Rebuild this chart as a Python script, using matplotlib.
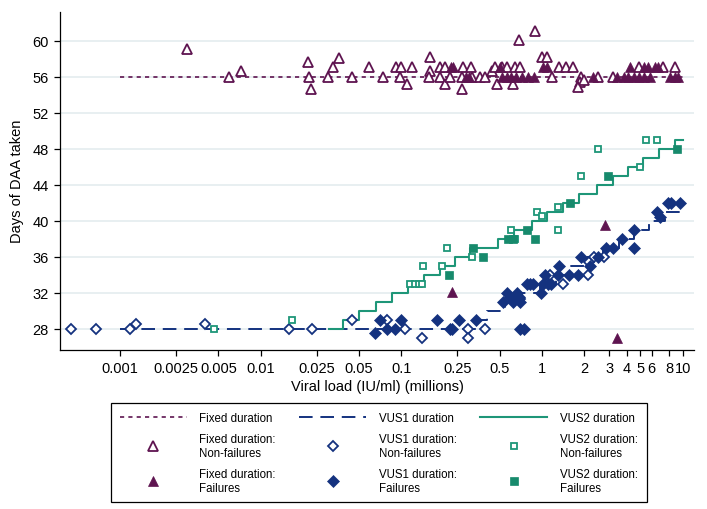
import matplotlib
matplotlib.use("Agg")
import matplotlib.pyplot as plt

plt.rcParams['font.family'] = ['Liberation Sans', 'DejaVu Sans']

# colours
PURPLE = '#5e1450'
NAVY = '#14327f'
TEAL = '#1e9678'

# --- step lines (viral load in millions, days) ---
fixed_line_x = [0.001, 10]
fixed_line_y = [56, 56]

vus1_line_x = [0.001, 0.339, 0.404, 0.545, 0.719, 0.966, 1.256, 1.604, 2.084,
               2.71, 3.52, 4.50, 5.75, 7.47, 9.71]
vus1_line_y = [28, 29, 30, 31, 32, 33, 34, 35, 36, 37, 38, 39, 40, 41, 41]

vus2_line_x = [0.0306, 0.0385, 0.05, 0.066, 0.0857, 0.111, 0.145, 0.188, 0.24,
               0.307, 0.486, 0.631, 0.843, 1.079, 1.415, 1.837, 2.44, 3.18,
               4.10, 5.24, 6.81, 8.81, 10.1]
vus2_line_y = [28, 29, 30, 31, 32, 33, 34, 35, 36, 37, 38, 39, 40, 41, 42, 43,
               44, 45, 46, 47, 48, 49, 49]

# --- fixed duration ---
fixed_nf_x = [0.003, 0.006, 0.0072, 0.0216, 0.0222, 0.0228, 0.030, 0.0327, 0.036,
              0.0444, 0.059, 0.0736, 0.092, 0.100, 0.098, 0.109, 0.119, 0.160,
              0.160, 0.158, 0.188, 0.203, 0.188, 0.203, 0.22, 0.275, 0.31, 0.271,
              0.27, 0.32, 0.36, 0.39, 0.44, 0.46, 0.52, 0.56, 0.475, 0.625, 0.64,
              0.70, 0.68, 0.89, 1.0, 1.08, 1.17, 1.31, 1.48, 1.66, 1.9, 1.86, 1.8,
              2.0, 3.2, 7.2, 8.8, 4.9, 2.5]
fixed_nf_y = [59.1, 56, 56.6, 57.6, 56, 54.6, 56, 57.1, 58.1,
              56, 57.1, 56, 57.1, 57.1, 56, 55.2, 57.1, 58.2,
              56.6, 56, 57.1, 57.1, 56, 55.2, 56, 57.1, 57.1, 54.6,
              56, 56, 56, 56, 56.6, 57.1, 57.1, 57.1, 55.2, 55.2, 57.1,
              57.1, 60.1, 61.1, 58.2, 58.2, 56, 57.1, 57.1, 57.1, 56, 55.4, 54.9,
              55.6, 56, 57.1, 57.1, 57.1, 56]
fixed_f_x = [0.225, 0.232, 0.29, 0.30, 0.52, 0.56, 0.60, 0.65, 0.72, 0.80, 0.88,
             0.50, 1.02, 1.08, 2.3, 3.4, 3.8, 4.1, 4.5, 4.9, 5.3, 5.8, 4.2, 5.3,
             5.7, 6.3, 6.7, 8.1, 8.8, 9.3, 0.228, 2.81, 3.43]
fixed_f_y = [57.1, 57.1, 56, 56, 56, 56, 56, 56, 56, 56, 56,
             57.1, 57.1, 57.1, 56, 56, 56, 56, 56, 56, 56, 56, 57.1, 57.1,
             57.1, 57.1, 57.1, 56, 56, 56, 32.1, 39.5, 27.0]

# --- VUS1 ---
vus1_nf_x = [0.000449, 0.000675, 0.00118, 0.00131, 0.004, 0.0159, 0.0233, 0.0444,
             0.0785, 0.106, 0.139, 0.299, 0.299, 0.39, 0.70, 1.14, 1.40, 2.13,
             2.16, 2.32, 2.75]
vus1_nf_y = [28, 28, 28, 28.5, 28.5, 28, 28, 29,
             29, 28, 27, 28, 27, 28, 31.3, 34, 33, 34,
             35.4, 36, 36]
vus1_f_x = [0.065, 0.0705, 0.0785, 0.0902, 0.100, 0.178, 0.222, 0.228, 0.258,
            0.339, 0.70, 0.74, 0.53, 0.56, 0.59, 0.66, 0.68, 0.70, 0.62, 0.82,
            0.86, 0.98, 1.01, 1.05, 1.16, 1.29, 1.32, 1.56, 1.8, 1.9, 2.2, 2.5,
            2.85, 3.2, 3.7, 4.5, 4.5, 6.6, 6.9, 7.9, 8.3, 9.6, 0.78, 1.10]
vus1_f_y = [27.5, 29, 28, 28, 29, 29, 28, 28, 29,
            29, 28, 28, 31, 32, 31.5, 32, 31.5, 31, 31, 33,
            33, 32, 33, 34, 33, 34, 35, 34, 34, 36, 35, 36,
            37, 37, 38, 39, 37, 41, 40.4, 42, 42, 42, 33, 33]

# --- VUS2 ---
vus2_nf_x = [0.00468, 0.0166, 0.115, 0.125, 0.133, 0.139, 0.143, 0.195, 0.21,
             0.316, 0.598, 0.641, 0.915, 0.994, 1.30, 1.30, 1.88, 2.48, 4.97,
             5.47, 6.6]
vus2_nf_y = [28, 29, 33, 33, 33, 33, 35, 35, 37,
             36, 39, 38, 41, 40.5, 41.5, 39, 45, 48, 46,
             49, 49]
vus2_f_x = [0.219, 0.323, 0.379, 0.575, 0.624, 0.778, 0.891, 1.58, 2.95, 9.1]
vus2_f_y = [34, 37, 36, 38, 38, 39, 38, 42, 45, 48]

xticks = [0.001, 0.0025, 0.005, 0.01, 0.025, 0.05, 0.1, 0.25, 0.5, 1, 2, 3, 4,
          5, 6, 8, 10]
xtick_labels = ['0.001', '0.0025', '0.005', '0.01', '0.025', '0.05', '0.1',
                '0.25', '0.5', '1', '2', '3', '4', '5', '6', '8', '10']
yticks = [28, 32, 36, 40, 44, 48, 52, 56, 60]

fig = plt.figure(figsize=(7.07, 5.10), dpi=100)
ax = fig.add_axes([0.0849, 0.3127, 0.8967, 0.6618])

l_fixed, = ax.plot(fixed_line_x, fixed_line_y, color=PURPLE, lw=1.2,
                   dashes=(2.5, 2.5), zorder=2)
l_vus1, = ax.step(vus1_line_x, vus1_line_y, where='post', color=NAVY, lw=1.4,
                  dashes=(7, 4), zorder=2)
l_vus2, = ax.step(vus2_line_x, vus2_line_y, where='post', color=TEAL, lw=1.5,
                  zorder=2)

mew = 1.3
m_fnf, = ax.plot(fixed_nf_x, fixed_nf_y, ls='none', marker='^', ms=7,
                 mfc='white', mec=PURPLE, mew=mew, zorder=3)
m_ff, = ax.plot(fixed_f_x, fixed_f_y, ls='none', marker='^', ms=7,
                mfc=PURPLE, mec=PURPLE, mew=0.5, zorder=3)
m_1nf, = ax.plot(vus1_nf_x, vus1_nf_y, ls='none', marker='D', ms=5.5,
                 mfc='white', mec=NAVY, mew=mew, zorder=3)
m_1f, = ax.plot(vus1_f_x, vus1_f_y, ls='none', marker='D', ms=6,
                mfc=NAVY, mec=NAVY, mew=0.5, zorder=3)
m_2nf, = ax.plot(vus2_nf_x, vus2_nf_y, ls='none', marker='s', ms=5,
                 mfc='white', mec=TEAL, mew=mew, zorder=3)
m_2f, = ax.plot(vus2_f_x, vus2_f_y, ls='none', marker='s', ms=5.5,
                mfc='#178a6c', mec='#178a6c', mew=0.5, zorder=3)

ax.set_xscale('log')
ax.set_xlim(3.75e-4, 12)
ax.set_ylim(25.7, 63.2)
ax.set_xticks(xticks)
ax.set_xticklabels(xtick_labels)
ax.xaxis.set_minor_locator(matplotlib.ticker.NullLocator())
ax.set_yticks(yticks)
ax.tick_params(axis='both', labelsize=10.5, length=4.5, width=0.9, color='black',
               direction='out')
ax.grid(axis='y', color='#e4ecef', lw=1.2, zorder=0)
ax.set_axisbelow(True)
for s in ['top', 'right']:
    ax.spines[s].set_visible(False)
for s in ['left', 'bottom']:
    ax.spines[s].set_linewidth(0.9)
ax.set_xlabel('Viral load (IU/ml) (millions)', fontsize=10.5, labelpad=3)
ax.set_ylabel('Days of DAA taken', fontsize=10.5, labelpad=6)

handles = [l_fixed, m_fnf, m_ff, l_vus1, m_1nf, m_1f, l_vus2, m_2nf, m_2f]
labels = ['Fixed duration', 'Fixed duration:\nNon-failures',
          'Fixed duration:\nFailures',
          'VUS1 duration', 'VUS1 duration:\nNon-failures',
          'VUS1 duration:\nFailures',
          'VUS2 duration', 'VUS2 duration:\nNon-failures',
          'VUS2 duration:\nFailures']
leg = fig.legend(handles, labels, ncol=3, loc='upper left',
                 bbox_to_anchor=(111 / 707, 1 - 404 / 510), fontsize=8.3,
                 handlelength=5.8, handletextpad=1.1, columnspacing=2.05,
                 labelspacing=0.8, borderpad=0.75, borderaxespad=0,
                 fancybox=False, framealpha=1, edgecolor='black', numpoints=1)
leg.get_frame().set_linewidth(0.9)

fig.savefig('out.png', dpi=100)
